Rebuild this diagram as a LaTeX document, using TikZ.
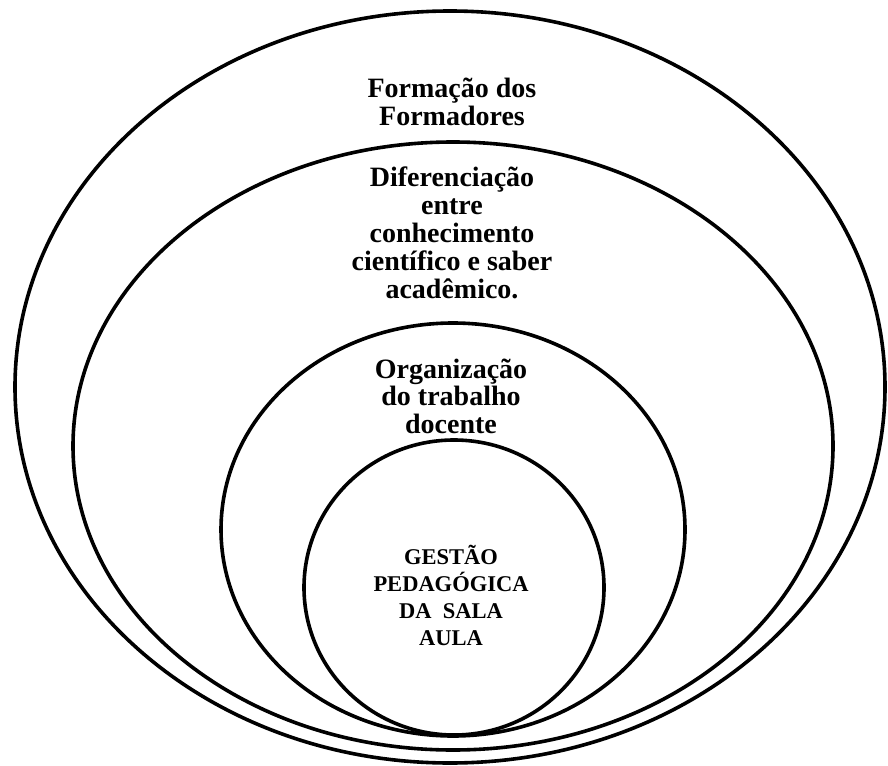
\documentclass[tikz,border=0pt]{standalone}
\usepackage{fontspec}
\setmainfont{Liberation Serif}
\usetikzlibrary{positioning}

\begin{document}
\begin{tikzpicture}[
 x=1pt, y=-1pt,
 ring/.style={draw, line width=3.6pt, black},
 lbl/.style={rectangle, draw=none, inner sep=0pt, align=center, anchor=base, font=\fontsize{28}{28}\selectfont\bfseries},
 caplbl/.style={lbl, font=\fontsize{22.5}{26.7}\selectfont\bfseries},
]
\useasboundingbox (0,0) rectangle (888,765);

% rings, outer to inner
\draw[ring] (450,387) ellipse [x radius=435, y radius=376];
\draw[ring] (453,446) ellipse [x radius=380, y radius=304];
\draw[ring] (453,529.5) ellipse [x radius=232, y radius=206.5];
\draw[ring] (454,587.5) ellipse [x radius=150, y radius=147.5];

% labels (anchored at the last line)
\node[lbl] (formadores) at (452,125) {Formação dos\\Formadores};
\node[lbl] (diferenca) at (452,298) {Diferenciação\\entre\\conhecimento\\científico e saber\\acadêmico.};
\node[lbl, font=\fontsize{28}{27.5}\selectfont\bfseries] (organizacao) at (451,433) {Organização\\do trabalho\\docente};
\node[caplbl] (gestao) at (451,645) {GESTÃO\\PEDAGÓGICA\\DA~ SALA\\AULA};

\end{tikzpicture}
\end{document}
